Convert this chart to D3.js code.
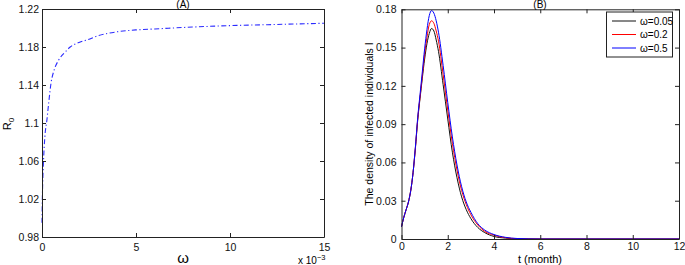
<!DOCTYPE html>
<html>
<head>
<meta charset="utf-8">
<script src="https://cdn.jsdelivr.net/npm/d3@7"></script>
<style>
  body { margin: 0; background: #fff; }
  svg { display: block; font-family: "Liberation Sans", Arial, sans-serif; }
  .axis path, .axis line { stroke: #222; }
  .axis text { fill: #111; font-size: 10.5px; }
</style>
</head>
<body>
<script>
// panel A : R0 against omega (omega in units of 10^-3)
var omegaA = [0, 0.02, 0.05, 0.08, 0.15, 0.26, 0.35, 0.48, 0.65, 0.88, 1.2, 1.5, 2.0, 2.4, 3, 4, 5, 6, 8, 10, 12, 15];
var r0A    = [0.995, 1.022, 1.045, 1.06, 1.085, 1.103, 1.12, 1.142, 1.156, 1.166, 1.174, 1.18, 1.185, 1.1875, 1.192, 1.196, 1.198, 1.199, 1.201, 1.2025, 1.2035, 1.205];
var xTicksA = [0, 5, 10, 15];
var yTicksA = [0.98, 1.02, 1.06, 1.1, 1.14, 1.18, 1.22];

// panel B : infected density I over time
var tB = [0, 0.1, 0.2, 0.3, 0.4, 0.5, 0.6, 0.7, 0.8, 0.9, 1.0, 1.1, 1.2, 1.3, 1.4, 1.5, 1.6, 1.8, 2.0, 2.2, 2.4, 2.6, 2.8, 3.0, 3.3, 3.6, 4.0, 4.5, 5, 6, 8, 10, 12];
var iBlack = [0.0096, 0.017, 0.023, 0.029, 0.038, 0.052, 0.071, 0.093, 0.110, 0.126, 0.141, 0.153, 0.161, 0.165, 0.163, 0.156, 0.147, 0.121, 0.094, 0.068, 0.048, 0.033, 0.023, 0.016, 0.009, 0.005, 0.002, 0.0007, 0.0002, 0, 0, 0, 0];
var iRed   = [0.0096, 0.017, 0.023, 0.029, 0.038, 0.052, 0.071, 0.094, 0.111, 0.128, 0.145, 0.158, 0.168, 0.171, 0.169, 0.163, 0.155, 0.129, 0.101, 0.075, 0.054, 0.038, 0.027, 0.019, 0.011, 0.006, 0.003, 0.001, 0.0003, 0, 0, 0, 0];
var iBlue  = [0.0096, 0.017, 0.023, 0.029, 0.038, 0.052, 0.072, 0.095, 0.113, 0.131, 0.149, 0.164, 0.175, 0.179, 0.177, 0.171, 0.162, 0.136, 0.107, 0.080, 0.058, 0.041, 0.029, 0.021, 0.012, 0.007, 0.0035, 0.0013, 0.0004, 0, 0, 0, 0];
var seriesNames = ["\u03c9=0.05", "\u03c9=0.2", "\u03c9=0.5"];
var seriesColors = ["#111", "#ff0000", "#0000ff"];
var xTicksB = [0, 2, 4, 6, 8, 10, 12];
var yTicksB = [0, 0.03, 0.06, 0.09, 0.12, 0.15, 0.18];

var svg = d3.select("body").append("svg")
    .attr("width", 685)
    .attr("height", 265);

// MATLAB style box: inward ticks on all four sides, labels bottom and left
function box(g, x, y, xt, yt, fmtX, fmtY, padX, padY) {
  var h = y.range()[0], w = x.range()[1];
  g.append("g").attr("class", "axis")
      .attr("transform", "translate(0," + h + ")")
      .call(d3.axisBottom(x).tickValues(xt).tickSizeInner(-4).tickSizeOuter(0).tickPadding(padX).tickFormat(fmtX));
  g.append("g").attr("class", "axis")
      .attr("transform", "translate(" + x.range()[0] + ",0)")
      .call(d3.axisLeft(y).tickValues(yt).tickSizeInner(-4).tickSizeOuter(0).tickPadding(padY).tickFormat(fmtY));
  g.append("g").attr("class", "axis")
      .attr("transform", "translate(0," + y.range()[1] + ")")
      .call(d3.axisTop(x).tickValues(xt).tickSizeInner(-4).tickSizeOuter(0).tickFormat(""));
  g.append("g").attr("class", "axis")
      .attr("transform", "translate(" + w + ",0)")
      .call(d3.axisRight(y).tickValues(yt).tickSizeInner(-4).tickSizeOuter(0).tickFormat(""));
}

//
// panel A
//
var xA = d3.scaleLinear().domain([0, 15]).range([42, 324]);
var yA = d3.scaleLinear().domain([0.98, 1.22]).range([237, 9]);
var gA = svg.append("g");

gA.append("path")
    .datum(omegaA.map(function (d, i) { return [d, r0A[i]]; }))
    .attr("fill", "none")
    .attr("stroke", "#2b2bff")
    .attr("stroke-width", 1.1)
    .attr("stroke-dasharray", "5,2.5,1.2,2.5")
    .attr("d", d3.line()
        .x(function (d) { return xA(d[0]); })
        .y(function (d) { return yA(d[1]); })
        .curve(d3.curveMonotoneX));

box(gA, xA, yA, xTicksA, yTicksA, d3.format("d"), function (d) { return String(+d.toFixed(2)); }, 7, 3);

gA.append("text")
    .attr("x", 183).attr("y", 8)
    .attr("text-anchor", "middle")
    .style("font-size", "10px")
    .text("(A)");

gA.append("text")
    .attr("x", 183).attr("y", 263)
    .attr("text-anchor", "middle")
    .style("font-size", "15px")
    .text("\u03c9");

var sci = gA.append("text")
    .attr("x", 298).attr("y", 264)
    .style("font-size", "10px");
sci.append("tspan").text("x 10");
sci.append("tspan").attr("dy", -4).style("font-size", "7.5px").text("\u22123");

var r0 = gA.append("text")
    .attr("transform", "translate(11,124) rotate(-90)")
    .attr("text-anchor", "middle")
    .style("font-size", "11px");
r0.append("tspan").text("R");
r0.append("tspan").attr("dy", 3).style("font-size", "8px").text("0");

//
// panel B
//
var xB = d3.scaleLinear().domain([0, 12]).range([401.5, 679]);
var yB = d3.scaleLinear().domain([0, 0.18]).range([239, 9.3]);
var gB = svg.append("g");

var lineB = d3.line()
    .x(function (d) { return xB(d[0]); })
    .y(function (d) { return yB(d[1]); })
    .curve(d3.curveMonotoneX);

[iBlack, iRed, iBlue].forEach(function (vals, k) {
  gB.append("path")
      .datum(tB.map(function (t, i) { return [t, vals[i]]; }))
      .attr("fill", "none")
      .attr("stroke", seriesColors[k])
      .attr("stroke-width", 1)
      .attr("d", lineB);
});

box(gB, xB, yB, xTicksB, yTicksB, d3.format("d"), function (d) { return d === 0 ? "0" : String(+d.toFixed(2)); }, 4, 5);

gB.append("text")
    .attr("x", 540).attr("y", 8)
    .attr("text-anchor", "middle")
    .style("font-size", "10px")
    .text("(B)");

gB.append("text")
    .attr("x", 540).attr("y", 263)
    .attr("text-anchor", "middle")
    .style("font-size", "11px")
    .text("t (month)");

gB.append("text")
    .attr("transform", "translate(373,124) rotate(-90)")
    .attr("text-anchor", "middle")
    .style("font-size", "10.5px")
    .text("The density of infected individuals I");

// legend
var leg = gB.append("g");
leg.append("rect")
    .attr("x", 606.5).attr("y", 12)
    .attr("width", 66).attr("height", 45)
    .attr("fill", "#fff")
    .attr("stroke", "#222");
seriesNames.forEach(function (name, k) {
  var yy = 21 + k * 13.5;
  leg.append("line")
      .attr("x1", 612).attr("x2", 636)
      .attr("y1", yy).attr("y2", yy)
      .attr("stroke", seriesColors[k]);
  leg.append("text")
      .attr("x", 640).attr("y", yy + 3.5)
      .style("font-size", "10px")
      .text(name);
});
</script>
</body>
</html>
